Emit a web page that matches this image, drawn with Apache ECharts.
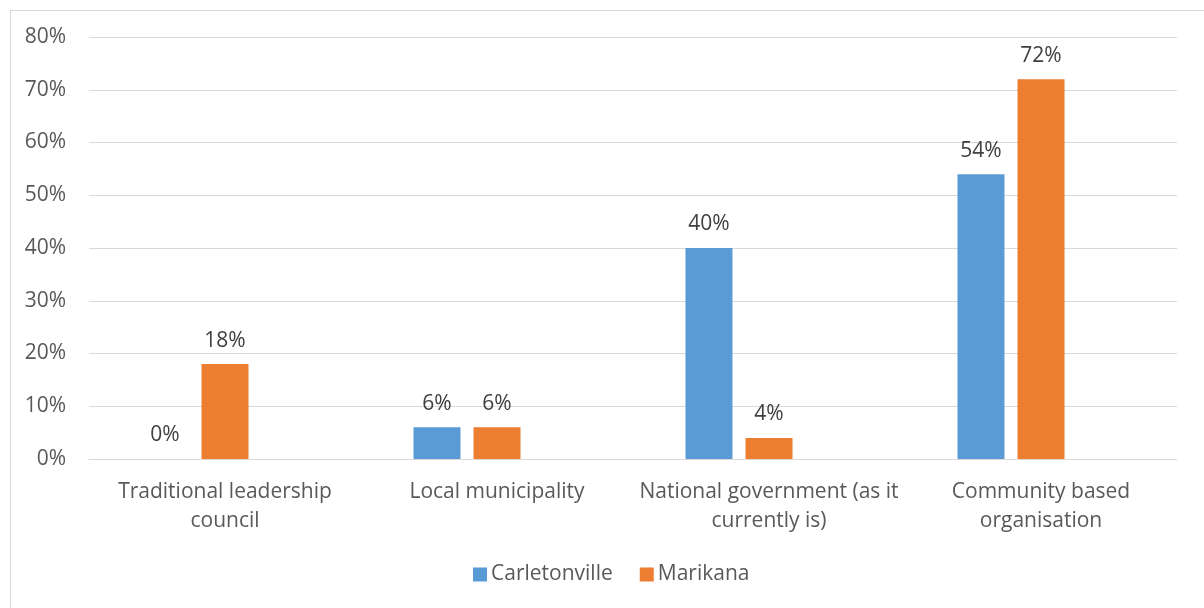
<!DOCTYPE html>
<html>
<head>
<meta charset="utf-8">
<script src="https://cdn.jsdelivr.net/npm/echarts@6/dist/echarts.min.js"></script>
<style>
html,body{margin:0;padding:0;background:#fff;}
#chart{width:1204px;height:608px;}
</style>
</head>
<body>
<div id="chart"></div>
<script>
const categories = ["Traditional leadership\ncouncil", "Local municipality", "National government (as it\ncurrently is)", "Community based\norganisation"];
const carletonville = [0, 6, 40, 54];
const marikana = [18, 6, 4, 72];
const spacer = [null, null, null, null];
const seriesNames = ["Carletonville", "Marikana"];
const yTicks = { min: 0, max: 80, interval: 10 };

const FONT = "Open Sans";
const FS = 21;
const chart = echarts.init(document.getElementById('chart'), null, { renderer: 'canvas' });
const labelCfg = {
  show: true, position: 'top', distance: 13,
  formatter: '{c}%', color: '#404040', fontSize: FS, fontFamily: FONT
};
chart.setOption({
  animation: false,
  backgroundColor: '#fff',
  graphic: [{
    type: 'rect', left: 8, top: 8,
    shape: { x: 0, y: 0, width: 1220, height: 620 },
    style: { fill: 'none', stroke: '#d9d9d9', lineWidth: 1 },
    silent: true
  }],
  grid: { left: 89, right: 27, top: 37, bottom: 149, containLabel: false },
  legend: {
    data: seriesNames,
    bottom: 18, left: 468,
    itemWidth: 14, itemHeight: 14, itemGap: 27,
    icon: 'rect',
    textStyle: { color: '#595959', fontSize: FS, fontFamily: FONT, padding: [0, 0, 0, -1] }
  },
  xAxis: {
    type: 'category', data: categories,
    axisLine: { lineStyle: { color: '#d9d9d9', width: 1 } },
    axisTick: { show: false },
    axisLabel: { interval: 0, color: '#595959', fontSize: FS, fontFamily: FONT, lineHeight: 29, margin: 19 }
  },
  yAxis: {
    type: 'value', min: yTicks.min, max: yTicks.max, interval: yTicks.interval,
    axisLine: { show: false }, axisTick: { show: false },
    splitLine: { lineStyle: { color: '#d9d9d9', width: 1 } },
    axisLabel: { formatter: '{value}%', color: '#595959', fontSize: FS, fontFamily: FONT, margin: 23 }
  },
  series: [
    { name: seriesNames[0], type: 'bar', data: carletonville, barWidth: 47, barGap: '27.7%', itemStyle: { color: '#5B9BD5' }, label: labelCfg },
    { name: seriesNames[1], type: 'bar', data: marikana, barWidth: 47, barGap: '27.7%', itemStyle: { color: '#ED7D31' }, label: labelCfg },
    { name: 'spacer', type: 'bar', data: spacer, barWidth: 47, barGap: '27.7%', itemStyle: { color: 'transparent' } }
  ]
});
</script>
</body>
</html>
